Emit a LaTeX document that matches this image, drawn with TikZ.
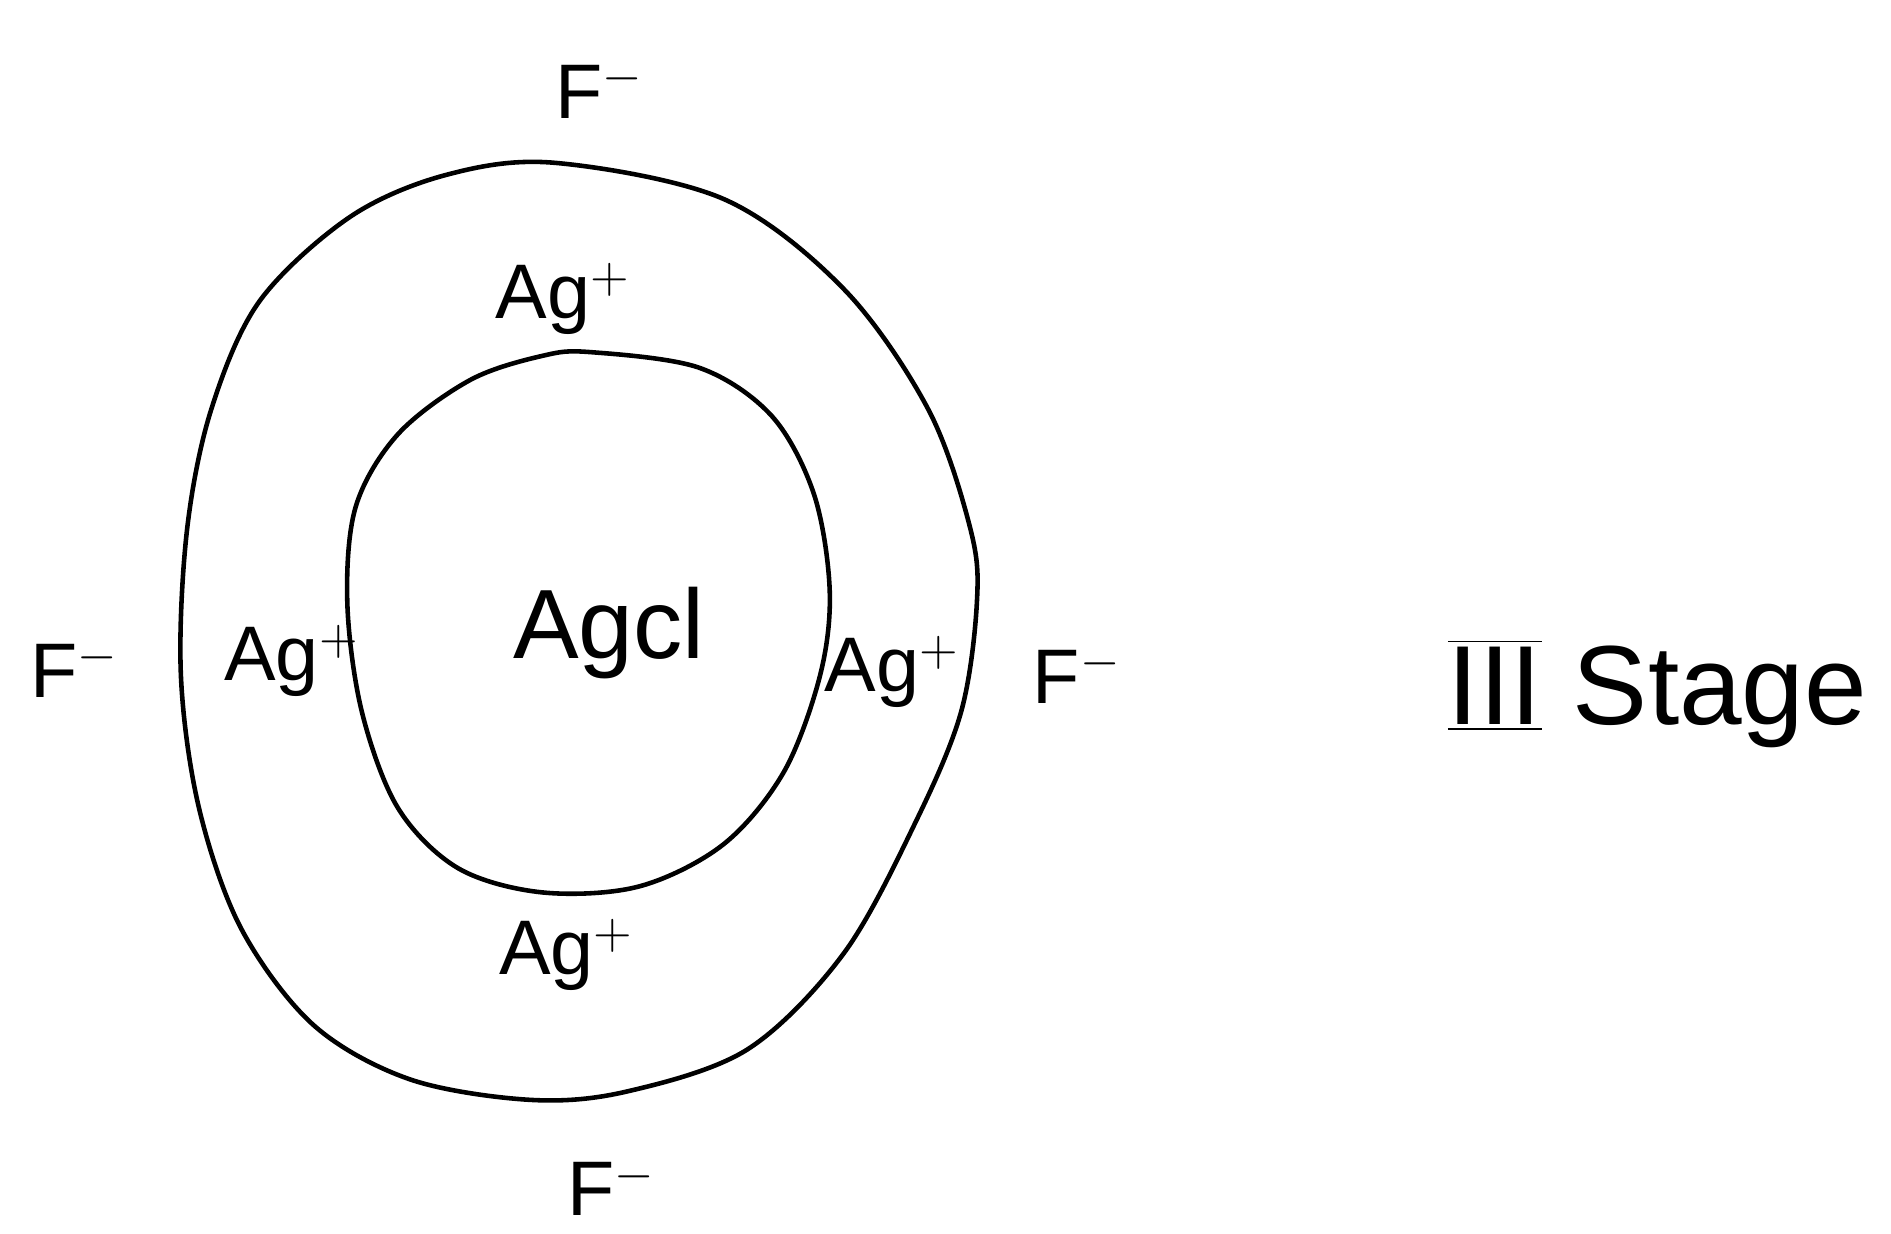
\documentclass[tikz,border=0pt]{standalone}
\usepackage{fontspec}
\setmainfont{Liberation Sans}
\begin{document}
\begin{tikzpicture}[x=0.01206cm,y=-0.01206cm,
  curve/.style={line width=1.3pt, black},
  lbl/.style={font=\fontsize{22}{24}\selectfont, inner sep=0pt},
  big/.style={font=\fontsize{28}{30}\selectfont, inner sep=0pt}]
\useasboundingbox (0,0) rectangle (1568,1023);
% outer ring
\draw[curve] plot[smooth cycle, tension=0.55] coordinates {
 (460,135) (600,165) (700,240) (770,340) (805,440) (810,500) (797,590)
 (760,680) (700,790) (620,870) (520,905) (440,912) (340,895) (260,850)
 (200,770) (165,670) (150,560) (155,440) (175,340) (215,250) (290,180) (370,145)};
% inner ring
\draw[curve] plot[smooth cycle, tension=0.55] coordinates {
 (490,292) (580,305) (640,345) (675,410) (688,490) (680,560) (650,640)
 (600,700) (530,735) (450,740) (380,720) (330,670) (300,590) (288,500)
 (295,420) (330,360) (390,315) (450,295)};
% labels
\node[lbl] (ft) at (497,75) {F$^{-}$};
\node[lbl] (fl) at (62,555) {F$^{-}$};
\node[lbl] (fr) at (893,560) {F$^{-}$};
\node[lbl] (fb) at (507,985) {F$^{-}$};
\node[lbl] (at) at (467,248) {Ag$^{+}$};
\node[lbl] (al) at (242,548) {Ag$^{+}$};
\node[lbl] (ar) at (740,557) {Ag$^{+}$};
\node[lbl] (ab) at (470,792) {Ag$^{+}$};
\node[big] (agcl) at (505,525) {Agcl};
\node[big, anchor=west, font=\fontsize{32}{34}\selectfont] (stage) at (1200,575) {$\overline{\underline{\mbox{III}}}$ Stage};
\end{tikzpicture}
\end{document}
